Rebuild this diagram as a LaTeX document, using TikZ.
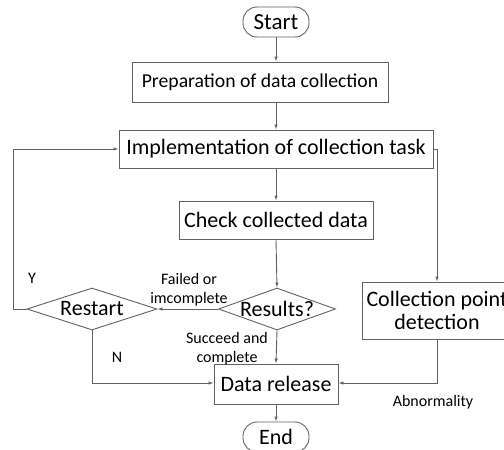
\documentclass[tikz,border=0pt]{standalone}
\usepackage{fontspec}
\setmainfont{Carlito}
\usetikzlibrary{shapes.geometric,arrows.meta}
\begin{document}
\begin{tikzpicture}[x=1pt,y=-1pt,
  line/.style={draw=black!62,line width=0.9pt},
  arr/.style={line,-{Latex[length=5pt,width=3.5pt]}},
  box/.style={draw=black!62,line width=0.9pt,rectangle,inner sep=0pt,font=\fontsize{22}{23}\selectfont},
  term/.style={box,rounded corners=14pt},
  dia/.style={draw=black!62,line width=0.9pt,diamond,inner sep=0pt,font=\fontsize{22}{23}\selectfont},
  lbl/.style={font=\fontsize{16}{19}\selectfont,align=center,inner sep=0pt}]
\useasboundingbox (0,0) rectangle (504,450);
\clip (0,0) rectangle (504,450);
\node[term,minimum width=66pt,minimum height=30pt,font=\fontsize{23}{24}\selectfont] (start) at (276,22) {Start};
\node[box,minimum width=256pt,minimum height=40pt,font=\fontsize{19.7}{21}\selectfont] (prep) at (260,82) {Preparation of data collection};
\node[box,minimum width=314pt,minimum height=38pt] (impl) at (276,149) {Implementation of collection task};
\node[box,minimum width=194pt,minimum height=38pt] (check) at (276,220) {Check collected data};
\node[dia,minimum width=117pt,minimum height=42pt] (res) at (277,309) {\makebox[0pt]{Results?}};
\node[dia,minimum width=130pt,minimum height=42pt] (rest) at (92,309) {\makebox[0pt]{Restart}};
\node[box,minimum width=150pt,minimum height=57pt,align=center] (det) at (437,310.5) {Collection point\\[-0.5pt]detection};
\node[box,minimum width=124pt,minimum height=40pt] (rel) at (276,384) {Data release};
\node[term,minimum width=66pt,minimum height=30pt] (end) at (276,437) {End};
\coordinate (c1) at (13,309);
\coordinate (c2) at (92,383);
\draw[arr] (start) -- (start.south |- prep.north);
\draw[arr] (start.south |- prep.south) -- (start.south |- impl.north);
\draw[arr] (impl.south) -- (check.north);
\draw[arr] (check.south) -- (res.north);
\draw[arr] (res.west) -- (rest.east);
\draw[line] (rest.west) -- (c1);
\draw[arr] (c1) |- (impl.west);
\draw[line] (rest.south) -- (c2);
\draw[arr] (c2) -- (c2 -| rel.west);
\draw[arr] (res.south) -- (rel.north);
\draw[arr] (impl.east) -| (det.north);
\draw[arr] (det.south) |- (c2 -| rel.east);
\draw[arr] (rel.south) -- (end.north);
\node[lbl] (l1) at (189,290) {Failed or\\imcomplete};
\node[lbl] (l2) at (32,278) {Y};
\node[lbl] (l3) at (117,357) {N};
\node[lbl] (l4) at (227,349) {Succeed and\\complete};
\node[lbl] (l5) at (433,402) {Abnormality};
\end{tikzpicture}
\end{document}
